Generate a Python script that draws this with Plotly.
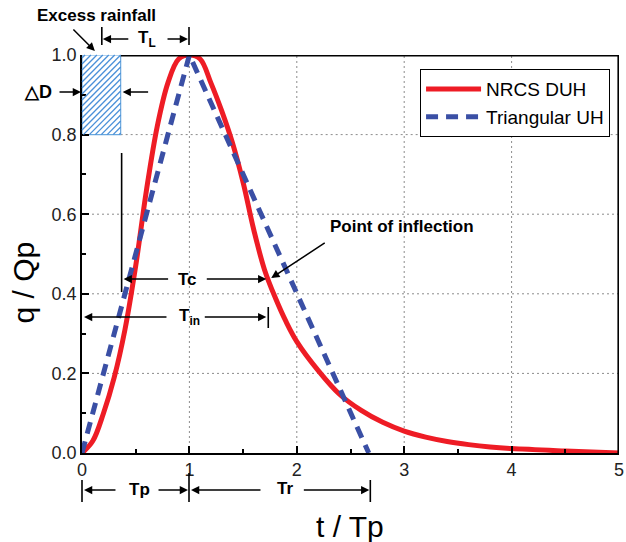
import plotly.graph_objects as go

# ---------------- data ----------------
t_nrcs = [0.0, 0.1, 0.2, 0.3, 0.4, 0.5, 0.6, 0.7, 0.8, 0.9, 1.0, 1.1, 1.2, 1.3, 1.4,
          1.5, 1.6, 1.7, 1.8, 1.9, 2.0, 2.2, 2.4, 2.6, 2.8, 3.0, 3.2, 3.4, 3.6, 3.8,
          4.0, 4.5, 5.0]
q_nrcs = [0.000, 0.030, 0.100, 0.190, 0.310, 0.470, 0.660, 0.820, 0.930, 0.990, 1.000,
          0.990, 0.930, 0.860, 0.780, 0.680, 0.560, 0.460, 0.390, 0.330, 0.280, 0.207,
          0.147, 0.107, 0.077, 0.055, 0.040, 0.029, 0.021, 0.015, 0.011, 0.005, 0.000]
t_tri = [0.0, 1.0, 2.67]
q_tri = [0.0, 1.0, 0.0]
rain_t = [0.0, 0.36, 0.36, 0.0, 0.0]
rain_q = [0.8, 0.8, 1.0, 1.0, 0.8]
x_ticks = [0, 1, 2, 3, 4, 5]
y_ticks = [0.0, 0.2, 0.4, 0.6, 0.8, 1.0]
y_ticklabels = ["0.0", "0.2", "0.4", "0.6", "0.8", "1.0"]

# ---------------- layout helpers (pixel -> paper) ----------------
W, H = 626, 542
L, R, T, B = 82, 2, 55, 89
PW, PH = W - L - R, H - T - B
FONT = "Liberation Sans, Arial, sans-serif"
X_MAX = x_ticks[-1]
Y_MAX = y_ticks[-1]


def P(px, py):
    return (px - L) / PW, (H - B - py) / PH


annotations = []
shapes = []


def text(px, py, s, size=17, bold=True, angle=0):
    x, y = P(px, py)
    annotations.append(dict(xref="paper", yref="paper", x=x, y=y, text=("<b>%s</b>" % s) if bold else s,
                            showarrow=False, xanchor="center", yanchor="middle", textangle=angle,
                            font=dict(family=FONT, size=size, color="black")))


def arrow(hx, hy, tx, ty):
    x, y = P(hx, hy)
    annotations.append(dict(xref="paper", yref="paper", x=x, y=y, text="", showarrow=True,
                            axref="pixel", ayref="pixel", ax=tx - hx, ay=ty - hy,
                            arrowhead=2, arrowsize=1.1, arrowwidth=1.5, arrowcolor="black",
                            standoff=0, startstandoff=0))


def seg(x0, y0, x1, y1, width=1.6, color="black"):
    shapes.append(dict(type="line", xref="paper", yref="paper", x0=x0, x1=x1, y0=y0, y1=y1,
                       line=dict(color=color, width=width)))


def vbar(px, py0, py1):
    x0, y0 = P(px, py0)
    x1, y1 = P(px, py1)
    seg(x0, y0, x1, y1)


# hatch of the rainfall block ("/" strokes, spaced in pixels)
hx0, hx1 = L + rain_t[0] / X_MAX * PW, L + rain_t[1] / X_MAX * PW
hy1, hy0 = H - B - rain_q[0] * PH, H - B - rain_q[2] * PH   # hy0 = top, hy1 = bottom (pixels)
c = hx0 + hy0 + 3
while c < hx1 + hy1:
    xa, xb = max(hx0, c - hy1), min(hx1, c - hy0)
    if xb > xa:
        pa, pb = P(xa, c - xa), P(xb, c - xb)
        seg(pa[0], pa[1], pb[0], pb[1], 1.3, "#4A90D9")
    c += 6

# Excess rainfall
text(97, 15, "Excess rainfall", 17)
arrow(95, 51, 72, 28)
# T_L
vbar(102, 27, 45)
vbar(190, 27, 45)
text(148, 39, "T<sub>L</sub>", 17)
arrow(103, 39, 130, 39)
arrow(189, 39, 167, 39)
# Delta D
text(38, 92, "△D", 18)
arrow(81, 92, 58, 92)
arrow(123, 92, 150, 92)
# Tc
vbar(122, 153, 292)
text(188, 279, "Tc", 17)
arrow(124, 279, 170, 279)
arrow(268, 279, 207, 279)
# Point of inflection
text(405, 226, "Point of inflection", 17)
arrow(273, 278, 328, 242)
# T_in
text(190, 317, "T<sub>in</sub>", 17)
arrow(84, 317, 168, 317)
arrow(268, 317, 205, 317)
vbar(270, 307, 328)
# Bottom Tp / Tr
vbar(82, 480, 502)
vbar(190, 473, 502)
vbar(373, 480, 502)
text(140, 490, "Tp", 17)
arrow(84, 490, 117, 490)
arrow(189, 490, 158, 490)
text(287, 488, "Tr", 17)
arrow(192, 490, 263, 490)
arrow(372, 490, 305, 490)
# Axis titles
text(352, 526, "t / Tp", 30, bold=False)
text(22, 283, "q / Qp", 30, bold=False, angle=-90)

# dotted grid and the top/right frame, built on the axes' own scales
grid_x, grid_y = [], []
for xv in x_ticks[1:-1]:
    grid_x += [xv, xv, None]
    grid_y += [y_ticks[0], Y_MAX, None]
for yv in y_ticks[1:-1]:
    grid_x += [rain_t[1] if yv >= rain_q[0] else x_ticks[0], X_MAX, None]
    grid_y += [yv, yv, None]
dx, dy = 0.8 / PW * X_MAX, 0.8 / PH * Y_MAX
frame_x = [rain_t[1], X_MAX - dx, X_MAX - dx]
frame_y = [Y_MAX - dy, Y_MAX - dy, y_ticks[0]]

fig = go.Figure()
fig.add_trace(go.Scatter(x=grid_x, y=grid_y, mode="lines", showlegend=False, hoverinfo="skip",
                         line=dict(color="#8c8c8c", width=1, dash="2px,3px")))
fig.add_trace(go.Scatter(x=rain_t, y=rain_q, mode="lines", showlegend=False,
                         line=dict(color="#6AA8DE", width=1.2), hoverinfo="skip"))
fig.add_trace(go.Scatter(x=t_nrcs, y=q_nrcs, mode="lines", name="NRCS DUH",
                         line=dict(color="#EE1C25", width=5, shape="spline", smoothing=1.0)))
fig.add_trace(go.Scatter(x=t_tri, y=q_tri, mode="lines", name="Triangular UH",
                         line=dict(color="#3A4FA5", width=5, dash="12px,8px")))
fig.add_trace(go.Scatter(x=frame_x, y=frame_y, mode="lines", showlegend=False, hoverinfo="skip",
                         line=dict(color="black", width=1.6)))

axis_common = dict(ticks="inside", tickcolor="black", tickwidth=1.5, ticklen=7,
                   showgrid=False, zeroline=False, ticklabeloverflow="allow",
                   showline=True, linecolor="black", linewidth=1.5, mirror=False,
                   tickfont=dict(family=FONT, size=18, color="#222222"))

fig.update_xaxes(range=[0, X_MAX], tickvals=x_ticks,
                 minor=dict(ticks="inside", dtick=0.5, ticklen=4, tickwidth=1.5, tickcolor="black"),
                 **axis_common)
fig.update_yaxes(range=[y_ticks[0], Y_MAX], tickvals=y_ticks, ticktext=y_ticklabels,
                 minor=dict(ticks="inside", dtick=0.1, ticklen=4, tickwidth=1.5, tickcolor="black"),
                 **axis_common)

lx, ly = P(423, 69)
fig.update_layout(
    width=W, height=H,
    margin=dict(l=L, r=R, t=T, b=B),
    paper_bgcolor="white", plot_bgcolor="white",
    font=dict(family=FONT, color="black"),
    legend=dict(x=lx, y=ly, xanchor="left", yanchor="top",
                bordercolor="black", borderwidth=1.2, bgcolor="white",
                font=dict(family=FONT, size=19, color="black"),
                tracegroupgap=0, itemwidth=55),
    annotations=annotations,
    shapes=shapes,
    showlegend=True,
)

fig.write_html("out.html")
